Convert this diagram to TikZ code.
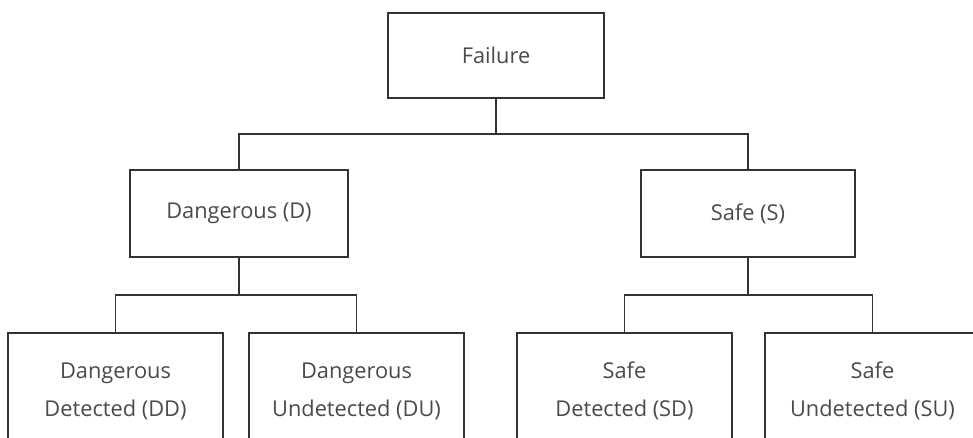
\documentclass[tikz,border=0pt]{standalone}
\usepackage{fontspec}
\setmainfont{Open Sans}
\usepackage{xcolor}
\definecolor{boxline}{HTML}{333333}
\definecolor{boxtext}{HTML}{4a4a4a}

\tikzset{
    failbox/.style={draw=boxline, line width=1.5pt, fill=white, inner sep=0pt,
        text=boxtext, align=center, font=\fontsize{15.5}{27}\selectfont},
    link/.style={draw=boxline, line width=1.4pt}
}

\begin{document}
\begin{tikzpicture}[x=0.025cm, y=-0.025cm]
        \clip (0,0) rectangle (973,438);
        \fill[white] (0,0) rectangle (973,438);
        % top level
        \node[failbox, minimum width=5.4cm, minimum height=2.125cm] (failure) at (496,55.5) {Failure};
        % second level
        \node[failbox, minimum width=5.45cm, minimum height=2.175cm] (dang) at (239,213.5) {Dangerous (D)};
        \node[failbox, minimum width=5.35cm, minimum height=2.175cm] (safe) at (748,213.5) {Safe (S)};
        % third level
        \node[failbox, minimum width=5.375cm, minimum height=2.9cm] (dd) at (115.5,391) {Dangerous\\Detected (DD)};
        \node[failbox, minimum width=5.375cm, minimum height=2.9cm] (du) at (356.5,391) {Dangerous\\Undetected (DU)};
        \node[failbox, minimum width=5.375cm, minimum height=2.9cm] (sd) at (624.5,391) {Safe\\Detected (SD)};
        \node[failbox, minimum width=5.375cm, minimum height=2.9cm] (su) at (872.5,391) {Safe\\Undetected (SU)};
        % branch points
        \coordinate (failjoin) at (496,134);
        \coordinate (dangjoin) at (239,295);
        \coordinate (safejoin) at (748,295);
        \draw[link] (failure.south) -- (failjoin);
        \draw[link] (dang.north) |- (failjoin) -| (safe.north);
        \draw[link] (dang.south) -- (dangjoin);
        \draw[link] (dd.north) |- (dangjoin) -| (du.north);
        \draw[link] (safe.south) -- (safejoin);
        \draw[link] (sd.north) |- (safejoin) -| (su.north);
    \end{tikzpicture}
\end{document}
